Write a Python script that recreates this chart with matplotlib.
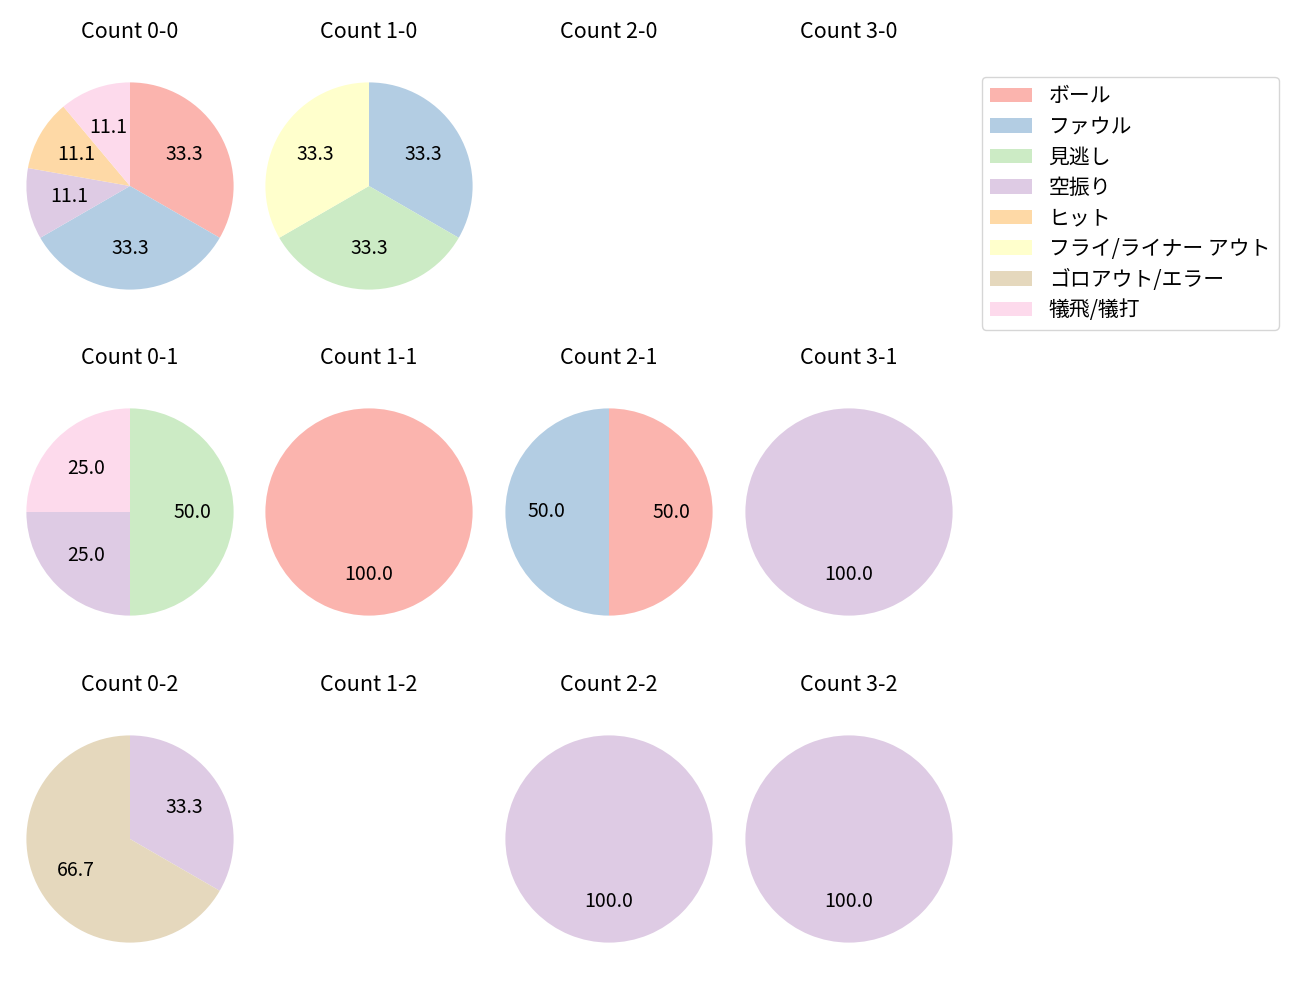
import matplotlib
matplotlib.use("Agg")
import matplotlib.pyplot as plt
from matplotlib.patches import Patch

plt.rcParams['font.family'] = ['Noto Sans CJK JP', 'DejaVu Sans']
plt.rcParams['font.size'] = 14

categories = ["ボール", "ファウル", "見逃し", "空振り", "ヒット",
              "フライ/ライナー アウト", "ゴロアウト/エラー", "犠飛/犠打"]
colors = ["#fbb4ae", "#b3cde3", "#ccebc5", "#decbe4", "#fed9a6",
          "#ffffcc", "#e5d8bd", "#fddaec"]

# pitch outcome counts per ball-strike count, in category order
counts = {
    "0-0": [3, 3, 0, 1, 1, 0, 0, 1],
    "1-0": [0, 1, 1, 0, 0, 1, 0, 0],
    "2-0": [0, 0, 0, 0, 0, 0, 0, 0],
    "3-0": [0, 0, 0, 0, 0, 0, 0, 0],
    "0-1": [0, 0, 2, 1, 0, 0, 0, 1],
    "1-1": [1, 0, 0, 0, 0, 0, 0, 0],
    "2-1": [1, 1, 0, 0, 0, 0, 0, 0],
    "3-1": [0, 0, 0, 1, 0, 0, 0, 0],
    "0-2": [0, 0, 0, 1, 0, 0, 2, 0],
    "1-2": [0, 0, 0, 0, 0, 0, 0, 0],
    "2-2": [0, 0, 0, 1, 0, 0, 0, 0],
    "3-2": [0, 0, 0, 1, 0, 0, 0, 0],
}

W, H = 1300, 1000
fig = plt.figure(figsize=(13, 10), dpi=100)

col_x = [130, 369, 609, 849]
row_y = [186, 512, 839]
size = 259

for r in range(3):
    for c in range(4):
        key = "{}-{}".format(c, r)
        ax = fig.add_axes([(col_x[c] - size / 2) / W, 1 - (row_y[r] + size / 2) / H,
                           size / W, size / H])
        ax.set_title("Count " + key, pad=13, fontsize=15.5)
        vals = counts[key]
        sizes = [v for v in vals if v > 0]
        cols = [colors[i] for i, v in enumerate(vals) if v > 0]
        if sizes:
            ax.pie(sizes, colors=cols, autopct="%.1f", startangle=90,
                   counterclock=False)
        ax.set_xlim(-1.25, 1.25)
        ax.set_ylim(-1.25, 1.25)
        ax.axis("off")

handles = [Patch(facecolor=col) for col in colors]
fig.legend(handles, categories, loc="upper left", fontsize=15,
           labelspacing=0.41, borderaxespad=0,
           bbox_to_anchor=(982 / W, 1 - 77 / H))

fig.savefig("out.png")
